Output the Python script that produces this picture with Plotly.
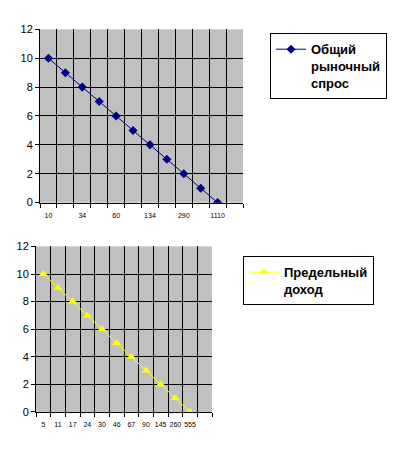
import plotly.graph_objects as go

# Data
price_demand = [10, 9, 8, 7, 6, 5, 4, 3, 2, 1, 0]
labels_demand = ["10", "", "34", "", "60", "", "134", "", "290", "", "1110", ""]
price_revenue = [10, 9, 8, 7, 6, 5, 4, 3, 2, 1, 0]
labels_revenue = ["5", "11", "17", "24", "30", "46", "67", "90", "145", "260", "555", ""]

FONT = "Liberation Sans, Arial, sans-serif"

fig = go.Figure()

fig.add_trace(go.Scatter(
    x=list(range(len(price_demand))), y=price_demand,
    mode="lines+markers", name="Общий<br>рыночный<br>спрос",
    line=dict(color="#000080", width=1),
    marker=dict(symbol="diamond", size=7, color="#000080"),
    xaxis="x", yaxis="y", legend="legend",
))
fig.add_trace(go.Scatter(
    x=list(range(len(price_revenue))), y=price_revenue,
    mode="lines+markers", name="Предельный<br>доход",
    line=dict(color="#FFFF00", width=1),
    marker=dict(symbol="triangle-up", size=8, color="#FFFF00"),
    xaxis="x2", yaxis="y2", legend="legend2",
))

top_x = [40/399, 243/399]
top_y = [249/451, 427/451]
bot_x = [36/399, 212/399]
bot_y = [34/451, 204/451]

def base_x(domain, anchor):
    return dict(domain=domain, anchor=anchor, range=[-0.5, 11.5],
                tickmode="linear", tick0=-0.5, dtick=1,
                showgrid=True, gridcolor="black", gridwidth=1,
                ticks="outside", ticklen=4, tickcolor="black",
                showticklabels=False, showline=True, linecolor="black",
                linewidth=1, zeroline=False)

def label_x(domain, anchor, over, labels):
    return dict(domain=domain, anchor=anchor, overlaying=over, matches=over,
                range=[-0.5, 11.5], tickmode="array",
                tickvals=list(range(len(labels))), ticktext=labels,
                showgrid=False, ticks="", showline=False, zeroline=False,
                side="bottom", tickangle=0, ticklabelstandoff=7,
                tickfont=dict(family=FONT, size=7, color="black"))

def base_y(domain, anchor):
    return dict(domain=domain, anchor=anchor, range=[0, 12], dtick=2,
                tickmode="linear", tick0=0,
                showgrid=True, gridcolor="black", gridwidth=1,
                ticks="outside", ticklen=4, tickcolor="black",
                showline=True, linecolor="black", linewidth=1, zeroline=False,
                tickfont=dict(family=FONT, size=11, color="black"))

fig.update_layout(
    width=399, height=451,
    margin=dict(l=0, r=0, t=0, b=0),
    paper_bgcolor="white", plot_bgcolor="#C0C0C0",
    xaxis=base_x(top_x, "y"),
    xaxis3=label_x(top_x, "y", "x", labels_demand),
    yaxis=base_y(top_y, "x"),
    xaxis2=base_x(bot_x, "y2"),
    xaxis4=label_x(bot_x, "y2", "x2", labels_revenue),
    yaxis2=base_y(bot_y, "x2"),
    legend=dict(x=270/399, y=(451-28)/451, xanchor="left", yanchor="top",
                bgcolor="white", bordercolor="black", borderwidth=1,
                valign="top", itemwidth=30,
                font=dict(family=FONT, size=13, color="black", weight="bold")),
    legend2=dict(x=243/399, y=(451-257)/451, xanchor="left", yanchor="top",
                 bgcolor="white", bordercolor="black", borderwidth=1,
                 valign="top", itemwidth=30,
                 font=dict(family=FONT, size=13, color="black", weight="bold")),
    showlegend=True,
)

# dummy traces so overlay label axes render
fig.add_trace(go.Scatter(x=[None], y=[None], xaxis="x3", yaxis="y", showlegend=False, hoverinfo="skip"))
fig.add_trace(go.Scatter(x=[None], y=[None], xaxis="x4", yaxis="y2", showlegend=False, hoverinfo="skip"))

fig.write_html("out.html")
